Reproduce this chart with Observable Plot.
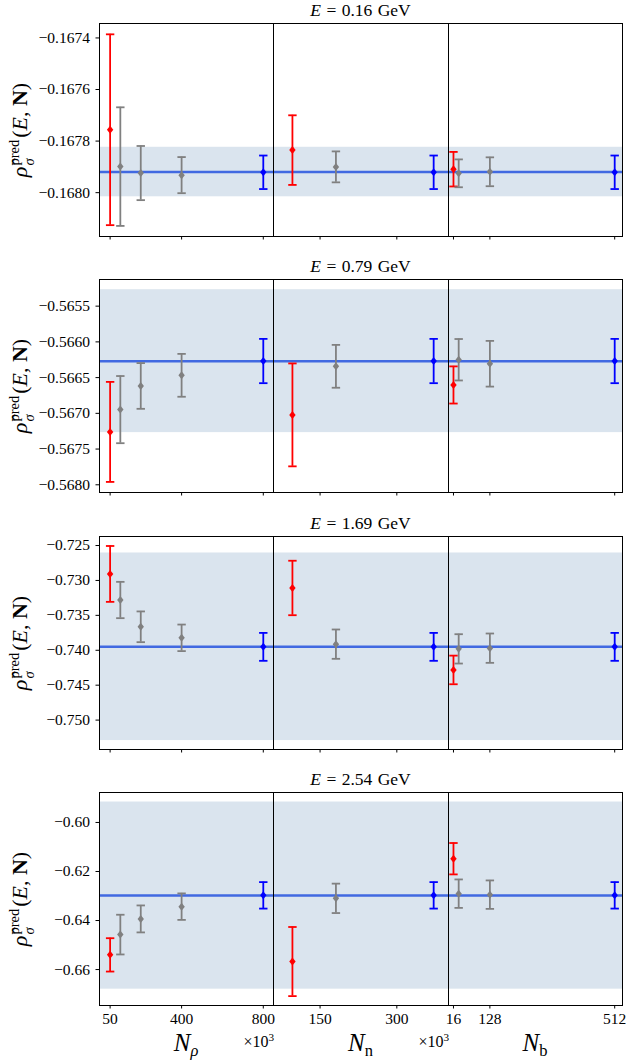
<!DOCTYPE html>
<html><head><meta charset="utf-8">
<script src="https://cdn.jsdelivr.net/npm/d3@7"></script>
<script src="https://cdn.jsdelivr.net/npm/@observablehq/plot@0.6"></script>
<style>
body{margin:0;background:#fff;}
#root{position:relative;width:626px;height:1063px;font-family:"Liberation Serif","DejaVu Serif",serif;color:#000;overflow:hidden;}
.sub{position:absolute;}
.title{position:absolute;font-size:17.5px;word-spacing:1px;white-space:nowrap;transform:translate(-50%,-50%);}
.ylab{position:absolute;font-size:22px;white-space:nowrap;transform:translate(-50%,-50%) rotate(-90deg);}
.ss{display:inline-flex;flex-direction:column;font-size:0.66em;line-height:1.05;vertical-align:middle;margin-left:1px;margin-right:2px;}
.xlab{position:absolute;font-size:25px;white-space:nowrap;transform:translate(-50%,-50%);}
.xlab sub{font-size:0.66em;vertical-align:-0.3em;}
.offs{position:absolute;font-size:16px;white-space:nowrap;transform:translate(-100%,-50%);}
</style></head>
<body><div id="root"></div>
<script>
// ---- data ----
const energies = ["0.16", "0.79", "1.69", "2.54"];
const nRho = [50, 100, 200, 400, 800];
const nN = [96, 181, 372];
const nB = [16, 32, 128, 512];
const rhoColors = ["red", "gray", "gray", "gray", "blue"];
const nColors = ["red", "gray", "blue"];
const bColors = ["red", "gray", "gray", "blue"];

const meanRho = [
  [-0.167756, -0.167899, -0.167924, -0.167932, -0.167921],
  [-0.567260, -0.566948, -0.566617, -0.566468, -0.566268],
  [-0.729066, -0.732802, -0.736638, -0.738218, -0.739511],
  [-0.654013, -0.645743, -0.639348, -0.634338, -0.629735]
];
const errRho = [
  [0.00037, 0.00023, 0.000105, 0.00007, 0.000065],
  [0.00070, 0.00047, 0.00032, 0.00030, 0.00031],
  [0.0040, 0.0026, 0.0022, 0.0019, 0.0020],
  [0.0068, 0.0081, 0.0055, 0.0054, 0.0054]
];
const meanN = [
  [-0.167835, -0.167900, -0.167921],
  [-0.567022, -0.566342, -0.566268],
  [-0.731078, -0.739124, -0.739511],
  [-0.656741, -0.630957, -0.629735]
];
const errN = [
  [0.000135, 0.00006, 0.000065],
  [0.00072, 0.00030, 0.00031],
  [0.0039, 0.0021, 0.0020],
  [0.0141, 0.0060, 0.0054]
];
const meanB = [
  [-0.167909, -0.167925, -0.167919, -0.167921],
  [-0.566603, -0.566250, -0.566306, -0.566268],
  [-0.742816, -0.739799, -0.739700, -0.739511],
  [-0.614786, -0.629043, -0.629450, -0.629735]
];
const errB = [
  [0.000067, 0.000054, 0.000056, 0.000065],
  [0.00026, 0.00029, 0.00032, 0.00031],
  [0.00205, 0.0021, 0.0021, 0.0020],
  [0.0064, 0.0058, 0.0058, 0.0054]
];
const refValue = [-0.16792, -0.56627, -0.73950, -0.62983];
const refBand = [0.000096, 0.00100, 0.01343, 0.03817];

const yTicks = [
  [-0.1674, -0.1676, -0.1678, -0.1680],
  [-0.5655, -0.5660, -0.5665, -0.5670, -0.5675, -0.5680],
  [-0.725, -0.730, -0.735, -0.740, -0.745, -0.750],
  [-0.60, -0.62, -0.64, -0.66]
];
const yDecimals = [4, 4, 3, 2];
const yDomain = [
  [-0.16817, -0.167344],
  [-0.568108, -0.565127],
  [-0.75421, -0.723707],
  [-0.674664, -0.58778]
];
const xTicks = [[50, 400, 800], [150, 300], [16, 128, 512]];
const xDomain = [[-2, 850], [59, 401], [0.7, 536]];
const xNames = ['<i>N</i><sub><i>ρ</i></sub>', '<i>N</i><sub>n</sub>', '<i>N</i><sub>b</sub>'];
const xOffsetText = ["×10<sup style='font-size:0.7em'>3</sup>", "×10<sup style='font-size:0.7em'>3</sup>", ""];

// ---- layout ----
const frameLeft = [99, 273, 448];
const frameRight = [273, 448, 622];
const rowTop = [23, 279, 536, 792];
const rowHeight = 213;

const capSymbol = {draw(ctx) { ctx.moveTo(-4.2, 0); ctx.lineTo(4.2, 0); }};
const diamondSymbol = {draw(ctx) { ctx.moveTo(0, -4); ctx.lineTo(3.2, 0); ctx.lineTo(0, 4); ctx.lineTo(-3.2, 0); ctx.closePath(); }};

const root = document.getElementById("root");

function seriesFor(r, c) {
  const xs = [nRho, nN, nB][c];
  const ms = [meanRho, meanN, meanB][c][r];
  const es = [errRho, errN, errB][c][r];
  const cs = [rhoColors, nColors, bColors][c];
  return xs.map((x, i) => ({x, m: ms[i], lo: ms[i] - es[i], hi: ms[i] + es[i], color: cs[i]}));
}

for (let r = 0; r < 4; r++) {
  for (let c = 0; c < 3; c++) {
    const ml = c === 0 ? 95 : 1, mr = 1, mt = 1, mb = r === 3 ? 30 : 6;
    const fw = frameRight[c] - frameLeft[c];
    const data = seriesFor(r, c);
    const band = [{y1: refValue[r] - refBand[r], y2: refValue[r] + refBand[r]}];
    const fmt = d3.format(`.${yDecimals[r]}f`);
    const plot = Plot.plot({
      width: ml + fw + mr,
      height: mt + rowHeight + mb,
      marginLeft: ml, marginRight: mr, marginTop: mt, marginBottom: mb,
      style: {fontFamily: "'Liberation Serif', 'DejaVu Serif', serif", fontSize: "15.5px", background: "transparent", color: "black", overflow: "visible"},
      x: {domain: xDomain[c], ticks: xTicks[c], tickSize: 3.5, tickPadding: 4,
          tickFormat: r === 3 ? (d => String(d)) : (() => ""), label: null},
      y: {domain: yDomain[r], ticks: yTicks[r], tickFormat: fmt, tickSize: 3.5, tickPadding: 6,
          label: null, axis: c === 0 ? "left" : null},
      color: {type: "identity"},
      marks: [
        Plot.rect(band, {y1: "y1", y2: "y2", fill: "#dae4ee"}),
        Plot.ruleY([refValue[r]], {stroke: "#4169e1", strokeWidth: 2.5}),
        Plot.ruleX(data, {x: "x", y1: "lo", y2: "hi", stroke: "color", strokeWidth: 1.8}),
        Plot.dot(data, {x: "x", y: "lo", symbol: capSymbol, stroke: "color", fill: "none", strokeWidth: 1.8}),
        Plot.dot(data, {x: "x", y: "hi", symbol: capSymbol, stroke: "color", fill: "none", strokeWidth: 1.8}),
        Plot.dot(data, {x: "x", y: "m", symbol: diamondSymbol, fill: "color", stroke: "none"}),
        Plot.frame({stroke: "black", strokeWidth: 1})
      ]
    });
    plot.classList.add("sub");
    plot.style.left = (frameLeft[c] - ml) + "px";
    plot.style.top = (rowTop[r] - mt) + "px";
    root.appendChild(plot);
  }
  const t = document.createElement("div");
  t.className = "title";
  t.innerHTML = `<i>E</i> = ${energies[r]} GeV`;
  t.style.left = ((frameLeft[0] + frameRight[2]) / 2) + "px";
  t.style.top = (rowTop[r] - 13) + "px";
  root.appendChild(t);

  const yl = document.createElement("div");
  yl.className = "ylab";
  yl.innerHTML = `<i>ρ̂</i><span class="ss"><span>pred</span><span><i>σ</i></span></span>(<i>E</i>, <b>N</b>)`;
  yl.style.left = "22px";
  yl.style.top = (rowTop[r] + rowHeight / 2) + "px";
  root.appendChild(yl);
}
for (let c = 0; c < 3; c++) {
  const xl = document.createElement("div");
  xl.className = "xlab";
  xl.innerHTML = xNames[c];
  xl.style.left = ((frameLeft[c] + frameRight[c]) / 2) + "px";
  xl.style.top = "1045px";
  root.appendChild(xl);
  if (xOffsetText[c]) {
    const o = document.createElement("div");
    o.className = "offs";
    o.innerHTML = xOffsetText[c];
    o.style.left = (frameRight[c] + 1) + "px";
    o.style.top = "1041px";
    root.appendChild(o);
  }
}
</script>
</body></html>
